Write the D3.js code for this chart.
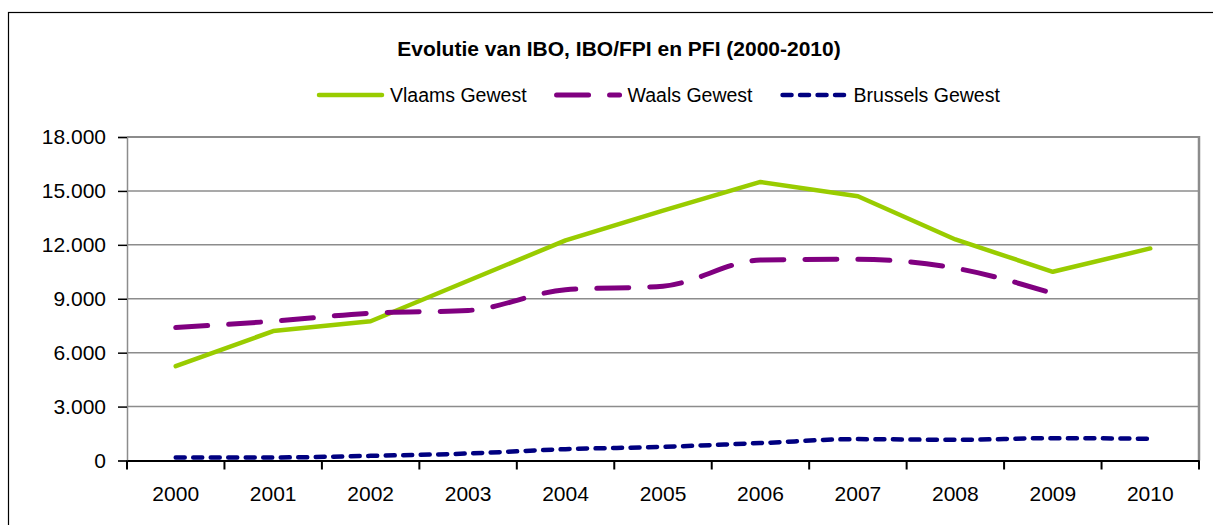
<!DOCTYPE html>
<html>
<head>
<meta charset="utf-8">
<script src="https://cdn.jsdelivr.net/npm/d3@7"></script>
<style>
  body { margin: 0; background: #fff; }
  svg { display: block; font-family: "Liberation Sans", Arial, sans-serif; }
</style>
</head>
<body>
<div id="chart1"></div>
<script>
// DATA
const years = ["2000", "2001", "2002", "2003", "2004", "2005", "2006", "2007", "2008", "2009", "2010"];
const vlaams = [5250, 7200, 7750, 10000, 12250, 13900, 15500, 14700, 12300, 10500, 11800];
const waals = [7400, 7750, 8200, 8350, 9500, 9700, 11150, 11200, 10700, 9300, null];
const brussels = [170, 170, 260, 390, 630, 760, 970, 1190, 1150, 1245, 1210];
const yTicks = [0, 3000, 6000, 9000, 12000, 15000, 18000];
const seriesNames = ["Vlaams Gewest", "Waals Gewest", "Brussels Gewest"];
const titleText = "Evolutie van IBO, IBO/FPI en PFI (2000-2010)";

//GLOBALS
const W = 1213, H = 525;
const margin = { top: 137, right: 14, bottom: 64.5, left: 127 };

const styles = [
  { color: "#99cc00", width: 4.5, dash: null, cap: "round", curve: d3.curveLinear },
  { color: "#800080", width: 5, dash: "32 21", cap: "round", curve: d3.curveMonotoneX },
  { color: "#000080", width: 4.5, dash: "9 8.5", cap: "round", curve: d3.curveMonotoneX }
];

const nl = d3.formatLocale({ decimal: ",", thousands: ".", grouping: [3], currency: ["", ""] });
const fmt = nl.format(",d");

const svg = d3.select("#chart1").append("svg").attr("width", W).attr("height", H);

// outer frame (runs past the right and bottom edge)
svg.append("rect")
  .attr("x", 8.5).attr("y", 12.5)
  .attr("width", W + 20).attr("height", H + 20)
  .attr("fill", "none").attr("stroke", "#000").attr("stroke-width", 1.2);

const xScale = d3.scaleBand()
  .domain(years)
  .range([margin.left, W - margin.right])
  .padding(0);

const yScale = d3.scaleLinear()
  .domain([0, 18000])
  .range([H - margin.bottom, margin.top]);

// gridlines
svg.append("g")
  .selectAll("line")
  .data(yTicks.slice(1))
  .join("line")
  .attr("x1", margin.left).attr("x2", W - margin.right)
  .attr("y1", d => yScale(d)).attr("y2", d => yScale(d))
  .attr("stroke", "#8c8c8c")
  .attr("stroke-width", d => d === 18000 ? 2 : 1.5);

// right border of the plot
svg.append("line")
  .attr("x1", W - margin.right).attr("x2", W - margin.right)
  .attr("y1", margin.top - 1).attr("y2", yScale(0))
  .attr("stroke", "#8c8c8c").attr("stroke-width", 2.5);

// y axis
const yAxis = svg.append("g")
  .attr("transform", "translate(" + margin.left + ",0)")
  .call(d3.axisLeft(yScale).tickValues(yTicks).tickFormat(fmt).tickSize(9).tickPadding(12));
yAxis.select(".domain").attr("stroke", "#8c8c8c").attr("stroke-width", 1.5);
yAxis.selectAll(".tick line").attr("stroke", "#000").attr("stroke-width", 1.5);
yAxis.selectAll(".tick text").attr("font-size", 21).attr("fill", "#000")
  .attr("font-family", "Liberation Sans, Arial, sans-serif");

// x axis
const xAxis = svg.append("g")
  .attr("transform", "translate(0," + yScale(0) + ")")
  .call(d3.axisBottom(xScale).tickSize(0).tickPadding(26));
xAxis.select(".domain").attr("stroke", "#000").attr("stroke-width", 2);
xAxis.selectAll(".tick text").attr("font-size", 21).attr("fill", "#000")
  .attr("font-family", "Liberation Sans, Arial, sans-serif");

// tick marks between categories
svg.append("g")
  .selectAll("line")
  .data(years.concat(["end"]))
  .join("line")
  .attr("x1", (d, i) => i < years.length ? xScale(d) : xScale.range()[1])
  .attr("x2", (d, i) => i < years.length ? xScale(d) : xScale.range()[1])
  .attr("y1", yScale(0))
  .attr("y2", yScale(0) + 9)
  .attr("stroke", "#000")
  .attr("stroke-width", 2);

// lines
const allSeries = [vlaams, waals, brussels];
allSeries.forEach(function (values, i) {
  const st = styles[i];
  const line = d3.line()
    .defined(d => d != null)
    .x((d, j) => xScale(years[j]) + xScale.bandwidth() / 2)
    .y(d => yScale(d))
    .curve(st.curve);
  svg.append("path")
    .datum(values)
    .attr("d", line)
    .attr("fill", "none")
    .attr("stroke", st.color)
    .attr("stroke-width", st.width)
    .attr("stroke-linecap", st.cap)
    .attr("stroke-linejoin", "round")
    .attr("stroke-dasharray", st.dash);
});

// title
svg.append("text")
  .attr("x", 619)
  .attr("y", 56)
  .attr("text-anchor", "middle")
  .attr("font-size", 21)
  .attr("font-weight", "bold")
  .attr("fill", "#000")
  .text(titleText);

// legend
const legend = svg.append("g").attr("class", "legend");
let lx = 318;
const ly = 95;
seriesNames.forEach(function (name, i) {
  const st = styles[i];
  legend.append("line")
    .attr("x1", lx + 1).attr("x2", lx + 64)
    .attr("y1", ly).attr("y2", ly)
    .attr("stroke", st.color)
    .attr("stroke-width", st.width)
    .attr("stroke-linecap", st.cap)
    .attr("stroke-dasharray", st.dash);
  const t = legend.append("text")
    .attr("x", lx + 72)
    .attr("y", ly + 7)
    .attr("font-size", 19.5)
    .attr("fill", "#000")
    .text(name);
  lx = lx + 72 + t.node().getComputedTextLength() + 29;
});
</script>
</body>
</html>
